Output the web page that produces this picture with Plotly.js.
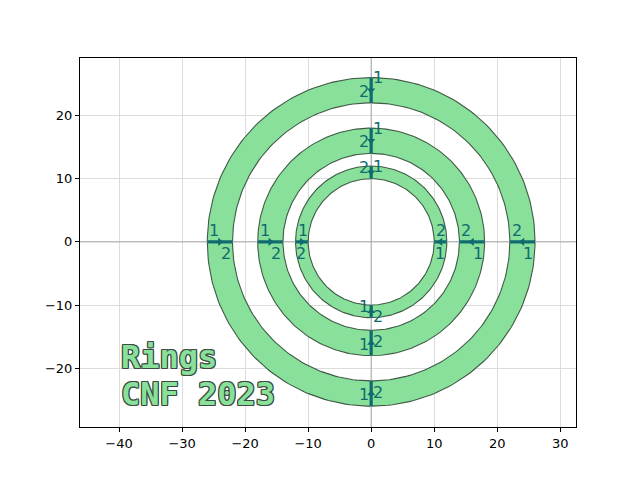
<!DOCTYPE html>
<html>
<head>
<meta charset="utf-8">
<script src="https://cdn.plot.ly/plotly-3.0.1.min.js"></script>
<style>html,body{margin:0;padding:0;background:#fff;}</style>
</head>
<body>
<div id="chart" style="width:640px;height:480px;"></div>
<script>
// ---- data ----
const ringInner = [10, 14, 22];
const ringOuter = [12, 18, 26];
const markerAngles = [180, 0, 90, 270];      // degrees where each ring is marked
const startLabel = '1';                       // label at outer end
const endLabel = '2';                         // label at inner end
const textLines = ['Rings', 'CNF 2023'];
const textX = -40;
const textY = [-18.2, -24.1];
const xTicks = [-40, -30, -20, -10, 0, 10, 20, 30];
const yTicks = [-20, -10, 0, 10, 20];
const xRange = [-46.2, 32.5];
const yRange = [-29.3, 29.1];

// ---- styles ----
const fillColor = '#89e09b';
const edgeColor = '#3f5a46';
const tealColor = '#0f6b6d';
const NPTS = 240;

function circle(r, reverse) {
  const xs = [], ys = [];
  for (let i = 0; i <= NPTS; i++) {
    let t = 2 * Math.PI * i / NPTS;
    if (reverse) t = 2 * Math.PI - t;
    xs.push(r * Math.cos(t));
    ys.push(r * Math.sin(t));
  }
  return [xs, ys];
}

const traces = [];
ringInner.forEach((ri, k) => {
  const ro = ringOuter[k];
  const [ox, oy] = circle(ro, false);
  const [ix, iy] = circle(ri, true);
  traces.push({
    type: 'scatter', mode: 'lines', x: ox.concat(ix), y: oy.concat(iy),
    fill: 'toself', fillcolor: fillColor, line: {width: 0}, hoverinfo: 'skip', showlegend: false
  });
  traces.push({
    type: 'scatter', mode: 'lines', x: ox.concat([null], ix), y: oy.concat([null], iy),
    line: {color: edgeColor, width: 1.1}, hoverinfo: 'skip', showlegend: false
  });
});

// cross-hair reference lines at zero
traces.push({
  type: 'scatter', mode: 'lines', x: [xRange[0], xRange[1], null, 0, 0], y: [0, 0, null, yRange[0], yRange[1]],
  line: {color: '#a8a8a8', width: 1}, hoverinfo: 'skip', showlegend: false, cliponaxis: true
});

// radial marker segments
const segX = [], segY = [], midX = [], midY = [], midSym = [];
const annotations = [];
const symFor = {180: 'triangle-right', 0: 'triangle-left', 90: 'triangle-down', 270: 'triangle-up'};
const anchorStart = {180: ['left', 'bottom'], 0: ['right', 'top'], 90: ['left', 'middle'], 270: ['right', 'bottom']};
const anchorEnd = {180: ['right', 'top'], 0: ['left', 'bottom'], 90: ['right', 'bottom'], 270: ['left', 'top']};
ringInner.forEach((ri, k) => {
  const ro = ringOuter[k];
  markerAngles.forEach(a => {
    const c = Math.round(Math.cos(a * Math.PI / 180)), s = Math.round(Math.sin(a * Math.PI / 180));
    segX.push(ro * c, ri * c, null);
    segY.push(ro * s, ri * s, null);
    const m = (ro + ri) / 2;
    midX.push(m * c); midY.push(m * s); midSym.push(symFor[a]);
    annotations.push({x: ro * c, y: ro * s, xref: 'x', yref: 'y', text: startLabel, showarrow: false,
      xanchor: anchorStart[a][0], yanchor: anchorStart[a][1], font: {family: 'DejaVu Sans', size: 16, color: tealColor}});
    annotations.push({x: ri * c, y: ri * s, xref: 'x', yref: 'y', text: endLabel, showarrow: false,
      xanchor: anchorEnd[a][0], yanchor: anchorEnd[a][1], font: {family: 'DejaVu Sans', size: 16, color: tealColor}});
  });
});
traces.push({
  type: 'scatter', mode: 'lines', x: segX, y: segY,
  line: {color: tealColor, width: 3.2}, hoverinfo: 'skip', showlegend: false
});
traces.push({
  type: 'scatter', mode: 'markers', x: midX, y: midY,
  marker: {symbol: midSym, size: 7, color: tealColor, line: {width: 0}}, hoverinfo: 'skip', showlegend: false
});

const outline = '#3a4a40';
const shadow = `1px 0 0 ${outline}, -1px 0 0 ${outline}, 0 1px 0 ${outline}, 0 -1px 0 ${outline}, 1px 1px 0 ${outline}, -1px -1px 0 ${outline}, 1px -1px 0 ${outline}, -1px 1px 0 ${outline}`;
textLines.forEach((t, i) => {
  annotations.push({x: textX, y: textY[i], xref: 'x', yref: 'y', text: t, showarrow: false,
    xanchor: 'left', yanchor: 'middle',
    font: {family: 'DejaVu Sans Mono', size: 32, weight: 'bold', color: fillColor, shadow: shadow}});
});

const axisCommon = {
  showline: true, mirror: true, linecolor: '#000', linewidth: 1,
  ticks: 'outside', ticklen: 4, tickwidth: 1, tickcolor: '#000',
  showgrid: true, gridcolor: '#dcdcdc', gridwidth: 1, zeroline: false,
  tickfont: {family: 'DejaVu Sans', size: 13, color: '#000'}
};

const layout = {
  width: 640, height: 480,
  margin: {l: 80, r: 64, t: 58, b: 53, pad: 0},
  paper_bgcolor: '#fff', plot_bgcolor: '#fff',
  showlegend: false,
  xaxis: Object.assign({}, axisCommon, {range: xRange, tickvals: xTicks, ticktext: xTicks.map(v => v < 0 ? '\u2212' + (-v) : String(v))}),
  yaxis: Object.assign({}, axisCommon, {range: yRange, tickvals: yTicks, ticktext: yTicks.map(v => v < 0 ? '\u2212' + (-v) : String(v))}),
  annotations: annotations
};

Plotly.newPlot('chart', traces, layout, {staticPlot: true, displayModeBar: false});
</script>
</body>
</html>
